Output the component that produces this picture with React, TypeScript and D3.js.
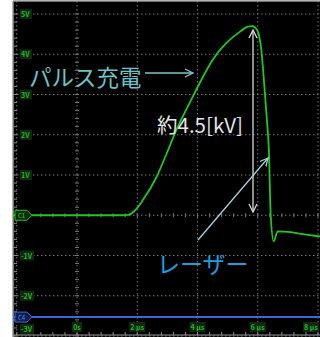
import React from 'react';
import * as d3 from 'd3';

const timeUs = [-2.1, 1.5, 1.7, 1.9, 2.18, 2.64, 2.98, 3.34, 3.74, 4.07, 4.5, 4.96, 5.39, 5.65, 5.82, 5.98, 6.12, 6.22, 6.3, 6.37, 6.43, 6.53, 6.66, 7.1, 7.5, 8.1];
const volts = [0, 0, 0.01, 0.1, 0.37, 0.95, 1.54, 2.19, 2.79, 3.28, 3.86, 4.28, 4.55, 4.68, 4.7, 4.6, 4.1, 3.2, 2.4, 1.6, 0.0, -0.65, -0.4, -0.42, -0.47, -0.53];
const laserLevel = -2.53;
const voltTicks = [5, 4, 3, 2, 1, -1, -2, -3];
const voltLabels = ['5V', '4V', '3V', '2V', '1V', '-1V', '-2V', '-3V'];
const timeTicks = [0, 2, 4, 6, 8];
const timeLabels = ['0s', '2 µs', '4 µs', '6 µs', '8 µs'];

const W = 320;
const H = 337;

export default function App() {
  const x = d3.scaleLinear().domain([0, 8]).range([77, 318]);
  const y = d3.scaleLinear().domain([-3, 5]).range([336, 14]);
  const left = 13;
  const top = 1;
  const bottom = 335;
  const right = 322;

  const pts = timeUs.map((t, i) => [t, volts[i]] as [number, number]);
  const line = d3
    .line<[number, number]>()
    .x((d) => x(d[0]))
    .y((d) => y(d[1]))
    .curve(d3.curveMonotoneX);

  const vGrid = d3.range(-2, 9, 2).filter((t) => x(t) > left + 2 && x(t) < right);
  const hGrid = d3.range(-3, 6, 1);
  const minorV = d3.range(-3, 5.01, 0.2);
  const minorT = d3.range(-2, 8.01, 0.4);

  const font = '"Noto Sans CJK JP", "Noto Sans", sans-serif';
  const ax = 253;
  const ay1 = 30;
  const ay2 = 212;

  return (
    <svg width={W} height={H} style={{ position: 'absolute', left: 0, top: 0 }}>
      <defs>
        <marker id="arrC" markerWidth="10" markerHeight="10" refX="8" refY="5" orient="auto" markerUnits="userSpaceOnUse">
          <path d="M0,1 L8,5 L0,9" fill="none" stroke="#7cc6cc" strokeWidth="1.3" />
        </marker>
        <marker id="arrB" markerWidth="10" markerHeight="10" refX="8" refY="5" orient="auto" markerUnits="userSpaceOnUse">
          <path d="M0,1 L8,5 L0,9" fill="none" stroke="#a6d2dc" strokeWidth="1.3" />
        </marker>
      </defs>
      <rect x={0} y={0} width={W} height={H} fill="#ffffff" />
      <rect x={left} y={top} width={right - left} height={H - top} fill="#000000" />

      {vGrid.map((t) => (
        <line key={'vg' + t} x1={x(t)} x2={x(t)} y1={top} y2={bottom} stroke="#777" strokeWidth={1} strokeDasharray="1.5,2.5" />
      ))}
      {hGrid.map((v) => (
        <line key={'hg' + v} x1={left} x2={right} y1={y(v)} y2={y(v)} stroke="#777" strokeWidth={1} strokeDasharray="1.5,2.5" />
      ))}
      {minorV.map((v, i) => (
        <g key={'mv' + i}>
          <line x1={left + 1} x2={left + 4} y1={y(v)} y2={y(v)} stroke="#888" strokeWidth={1} />
          <line x1={x(0) - 2} x2={x(0) + 2} y1={y(v)} y2={y(v)} stroke="#777" strokeWidth={1} />
        </g>
      ))}
      {minorT.map((t, i) => (
        <g key={'mt' + i}>
          <line x1={x(t)} x2={x(t)} y1={bottom - 3} y2={bottom} stroke="#888" strokeWidth={1} />
          <line x1={x(t)} x2={x(t)} y1={y(0) - 2} y2={y(0) + 2} stroke="#777" strokeWidth={1} />
        </g>
      ))}
      <line x1={left} x2={right} y1={top} y2={top} stroke="#999" strokeWidth={1.5} />
      <line x1={left} x2={left} y1={top} y2={H} stroke="#999" strokeWidth={1.5} />
      <line x1={left} x2={right} y1={bottom} y2={bottom} stroke="#999" strokeWidth={1.2} />

      {voltTicks.map((v, i) => {
        const cy = v === -3 ? y(v) - 7 : y(v);
        return (
          <g key={'vl' + v}>
            <rect x={20} y={cy - 5} width={v < 0 ? 14 : 12} height={10} fill="#102810" />
            <text x={21} y={cy + 3} fontSize={7} fontWeight="bold" fill="#22b822" fontFamily={font}>
              {voltLabels[i]}
            </text>
          </g>
        );
      })}
      {timeTicks.map((t, i) => {
        const last = i === timeTicks.length - 1;
        const cx = last ? 311 : x(t);
        return (
          <g key={'tl' + t}>
            <rect x={cx - (i === 0 ? 5 : 8)} y={322} width={i === 0 ? 10 : 16} height={10} fill="#102810" />
            <text x={cx} y={330} fontSize={7} fontWeight="bold" fill="#22b822" textAnchor="middle" fontFamily={font}>
              {timeLabels[i]}
            </text>
          </g>
        );
      })}

      <line x1={left} x2={right} y1={y(laserLevel)} y2={y(laserLevel)} stroke="#3a66e0" strokeWidth={2} />
      <path
        d={`M${left + 2},${y(laserLevel) - 5} L${left + 14},${y(laserLevel) - 5} L${left + 19},${y(laserLevel)} L${left + 14},${y(laserLevel) + 5} L${left + 2},${y(laserLevel) + 5} Z`}
        fill="#10204a"
        stroke="#3a66e0"
        strokeWidth={1}
      />
      <text x={left + 5} y={y(laserLevel) + 2.5} fontSize={6} fill="#5a86f0" fontFamily={font}>C4</text>

      <path d={line(pts) || ''} fill="none" stroke="#1ec81e" strokeWidth={1.8} />
      <path
        d={`M${left + 2},${y(0) - 5} L${left + 14},${y(0) - 5} L${left + 19},${y(0)} L${left + 14},${y(0) + 5} L${left + 2},${y(0) + 5} Z`}
        fill="#0c2a0c"
        stroke="#1ec81e"
        strokeWidth={1}
      />
      <text x={left + 5} y={y(0) + 2.5} fontSize={6} fill="#3ad83a" fontFamily={font}>C1</text>

      <text x={29} y={86} fontSize={22.5} fill="#6cc4c8" fontFamily={font}>パルス充電</text>
      <line x1={145} x2={193} y1={73} y2={73} stroke="#7cc6cc" strokeWidth={1.3} markerEnd="url(#arrC)" />

      <line x1={ax} x2={ax} y1={ay1} y2={ay2} stroke="#d8d8d8" strokeWidth={1.3} />
      <path d={`M${ax - 4},${ay1 + 8} L${ax},${ay1} L${ax + 4},${ay1 + 8}`} fill="none" stroke="#d8d8d8" strokeWidth={1.3} />
      <path d={`M${ax - 4},${ay2 - 8} L${ax},${ay2} L${ax + 4},${ay2 - 8}`} fill="none" stroke="#d8d8d8" strokeWidth={1.3} />
      <text x={157} y={133} fontSize={20.5} fill="#e4e4e4" fontFamily={font}>約4.5[kV]</text>

      <line x1={198} x2={268} y1={240} y2={158} stroke="#a6d2dc" strokeWidth={1.3} markerEnd="url(#arrB)" />
      <text x={157} y={273} fontSize={23} fill="#1aa0e0" fontFamily={font}>レーザー</text>
    </svg>
  );
}
